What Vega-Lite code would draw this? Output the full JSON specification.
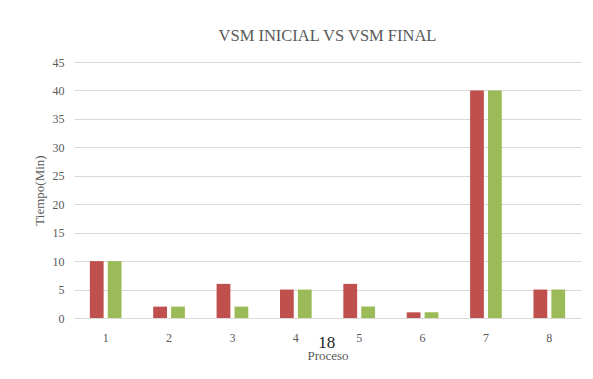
{
  "$schema": "https://vega.github.io/schema/vega-lite/v6.json",
  "width": 507,
  "height": 256,
  "autosize": {"type": "none"},
  "padding": {"left": 74, "top": 62, "right": 12, "bottom": 61},
  "background": "white",
  "title": {
    "text": "VSM INICIAL VS VSM FINAL",
    "font": "Liberation Serif",
    "fontSize": 16.5,
    "fontWeight": "normal",
    "color": "#595959",
    "offset": 12
  },
  "data": {
    "values": [
      {"proceso": "1", "serie": "VSM Inicial", "tiempo": 10},
      {"proceso": "1", "serie": "VSM Final", "tiempo": 10},
      {"proceso": "2", "serie": "VSM Inicial", "tiempo": 2},
      {"proceso": "2", "serie": "VSM Final", "tiempo": 2},
      {"proceso": "3", "serie": "VSM Inicial", "tiempo": 6},
      {"proceso": "3", "serie": "VSM Final", "tiempo": 2},
      {"proceso": "4", "serie": "VSM Inicial", "tiempo": 5},
      {"proceso": "4", "serie": "VSM Final", "tiempo": 5},
      {"proceso": "5", "serie": "VSM Inicial", "tiempo": 6},
      {"proceso": "5", "serie": "VSM Final", "tiempo": 2},
      {"proceso": "6", "serie": "VSM Inicial", "tiempo": 1},
      {"proceso": "6", "serie": "VSM Final", "tiempo": 1},
      {"proceso": "7", "serie": "VSM Inicial", "tiempo": 40},
      {"proceso": "7", "serie": "VSM Final", "tiempo": 40},
      {"proceso": "8", "serie": "VSM Inicial", "tiempo": 5},
      {"proceso": "8", "serie": "VSM Final", "tiempo": 5}
    ]
  },
  "encoding": {
    "x": {
      "field": "proceso",
      "type": "nominal",
      "scale": {"paddingInner": 0.5, "paddingOuter": 0.25},
      "axis": {
        "title": "Proceso",
        "labelAngle": 0,
        "ticks": false,
        "domain": false,
        "labelPadding": 14,
        "titlePadding": 6
      }
    },
    "y": {
      "field": "tiempo",
      "type": "quantitative",
      "scale": {"domain": [0, 45]},
      "axis": {
        "title": "Tiempo(Min)",
        "values": [0, 5, 10, 15, 20, 25, 30, 35, 40, 45],
        "labelOverlap": false,
        "ticks": false,
        "domain": false,
        "labelPadding": 10,
        "titlePadding": 6
      }
    }
  },
  "layer": [
    {
      "mark": {"type": "bar"},
      "encoding": {
        "xOffset": {
          "field": "serie",
          "type": "nominal",
          "sort": ["VSM Inicial", "VSM Final"],
          "scale": {"paddingInner": 0.23}
        },
        "color": {
          "field": "serie",
          "type": "nominal",
          "sort": ["VSM Inicial", "VSM Final"],
          "scale": {"domain": ["VSM Inicial", "VSM Final"], "range": ["#C0504D", "#9BBB59"]},
          "legend": null
        }
      }
    },
    {
      "data": {"values": [{"proceso": "4", "tiempo": 0, "pagina": "18"}]},
      "mark": {"type": "text", "font": "Liberation Serif", "fontSize": 17, "color": "#222222", "dx": 31, "dy": 25, "baseline": "middle"},
      "encoding": {
        "text": {"field": "pagina"}
      }
    }
  ],
  "config": {
    "view": {"stroke": null},
    "axis": {
      "labelFont": "Liberation Serif",
      "labelFontSize": 12,
      "labelColor": "#595959",
      "titleFont": "Liberation Serif",
      "titleFontSize": 13,
      "titleFontWeight": "normal",
      "titleColor": "#595959",
      "gridColor": "#D9D9D9",
      "gridWidth": 1
    },
    "axisX": {"grid": false},
    "axisY": {"grid": true}
  }
}
